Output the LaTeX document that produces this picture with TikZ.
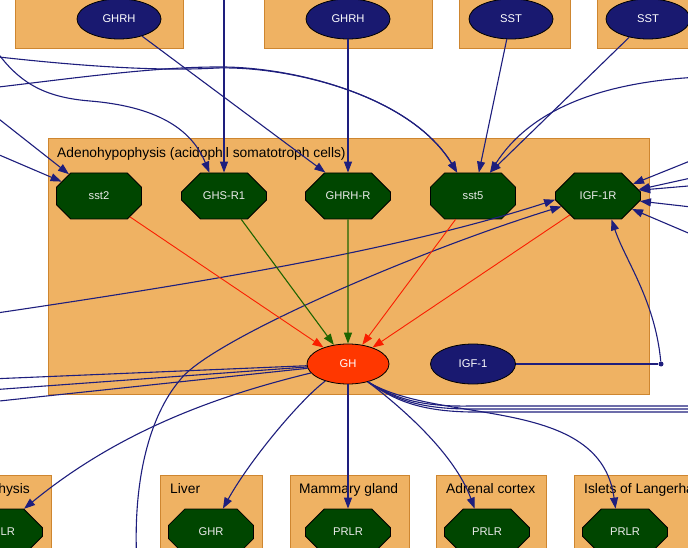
\documentclass[tikz,border=0pt]{standalone}
\usepackage{fontspec}
\setmainfont{Liberation Sans}
\usetikzlibrary{positioning, shapes.geometric, shapes.misc, arrows.meta}
\definecolor{boxfill}{RGB}{239,178,99}
\definecolor{boxdraw}{RGB}{206,134,48}
\definecolor{ligblue}{RGB}{25,25,112}
\definecolor{recgreen}{RGB}{0,70,0}
\definecolor{ghred}{RGB}{255,55,0}
\definecolor{edgeblue}{RGB}{30,30,125}
\definecolor{inhred}{RGB}{250,30,0}
\definecolor{actgreen}{RGB}{30,100,0}
\begin{document}
\begin{tikzpicture}[
    x=1pt, y=-1pt,
    box/.style={draw=boxdraw, fill=boxfill, line width=1pt},
    boxlabel/.style={font=\fontsize{13.8}{16}\selectfont, inner sep=0pt},
    lig/.style={
        ellipse,
        draw=black,
        fill=ligblue,
        text=white,
        line width=0.8pt,
        inner sep=0pt,
        minimum width=84pt,
        minimum height=40pt,
        font=\fontsize{11.2}{13}\selectfont,
    },
    horm/.style={lig, fill=ghred, minimum width=82pt},
    rec/.style={
        chamfered rectangle,
        chamfered rectangle xsep=16pt,
        chamfered rectangle ysep=15pt,
        draw=black,
        fill=recgreen,
        text=white!92!black,
        line width=0.8pt,
        inner sep=0pt,
        minimum width=85pt,
        minimum height=46pt,
        font=\fontsize{11.2}{13}\selectfont,
    },
    dot/.style={circle, fill=edgeblue, inner sep=0pt, minimum size=5pt},
    link/.style={draw=edgeblue, line width=1.1pt},
    arr/.style={link, -{Triangle[length=11pt, width=8pt]}},
    inh/.style={draw=inhred, line width=0.9pt, -{Triangle[length=11pt, width=8pt]}},
    act/.style={draw=actgreen, line width=1.1pt, -{Triangle[length=11pt, width=8pt]}}
]
\useasboundingbox (0,0) rectangle (688,548);
\clip (0,0) rectangle (688,548);

% compartments
\draw[box] (15,-20) rectangle (183,49);
\draw[box] (264,-20) rectangle (432,49);
\draw[box] (459,-20) rectangle (570,49);
\draw[box] (597,-20) rectangle (720,49);
\draw[box] (48,139) rectangle (649,394);
\draw[box] (-120,475) rectangle (51,600);
\draw[box] (160,475) rectangle (262,600);
\draw[box] (290,475) rectangle (409,600);
\draw[box] (436,475) rectangle (546,600);
\draw[box] (574,475) rectangle (740,600);

\node[boxlabel, anchor=base west] (lAdeno) at (57,157.5) {Adenohypophysis (acidophil somatotroph cells)};
\node[boxlabel, anchor=base east] (lPit) at (30,493) {Adenohypophysis};
\node[boxlabel, anchor=base west] (lLiver) at (170,493) {Liver};
\node[boxlabel, anchor=base west] (lMamm) at (299,493) {Mammary gland};
\node[boxlabel, anchor=base west] (lAdre) at (446,493) {Adrenal cortex};
\node[boxlabel, anchor=base west] (lIsl) at (584,493) {Islets of Langerhans};

% ligands and receptors
\node[lig] (ghrhA) at (119,19) {GHRH};
\node[lig] (ghrhB) at (348,19) {GHRH};
\node[lig] (sstA) at (511,19) {SST};
\node[lig] (sstB) at (648,19) {SST};

\node[rec] (sst2) at (99,196) {sst2};
\node[rec] (ghsr) at (224,196) {GHS-R1};
\node[rec] (ghrhr) at (348,196) {GHRH-R};
\node[rec] (sst5) at (473,196) {sst5};
\node[rec] (igfr) at (598,196) {IGF-1R};

\node[horm] (gh) at (348,364) {GH};
\node[lig, minimum width=85pt] (igf) at (473,364) {IGF-1};
\node[dot] (jn) at (661,364) {};

\node[rec] (prlrA) at (0,532) {PRLR};
\node[rec] (ghr) at (211,532) {GHR};
\node[rec] (prlrB) at (348,532) {PRLR};
\node[rec] (prlrC) at (487,532) {PRLR};
\node[rec] (prlrD) at (625,532) {PRLR};

% ends outside the frame
\coordinate (inA) at (224,-10);
\coordinate (inB) at (-10,42);
\coordinate (inC) at (-10,56);
\coordinate (inD) at (-10,88);
\coordinate (inE) at (-10,112);
\coordinate (inF) at (-10,151);
\coordinate (inG) at (-10,314);
\coordinate (inH) at (137,565);
\coordinate (inI) at (700,77);
\coordinate (inJ) at (700,157);
\coordinate (inK) at (700,176);
\coordinate (inL) at (700,185);
\coordinate (inM) at (700,208);
\coordinate (inN) at (700,238);
\coordinate (outA) at (-10,379);
\coordinate (outB) at (-10,390);
\coordinate (outC) at (-10,402);
\coordinate (outD) at (700,406);
\coordinate (outE) at (700,409);
\coordinate (outF) at (700,412);

% inputs to the somatotroph
\draw[arr] (ghrhA) -- (ghrhr.134);
\draw[arr] (ghrhB) -- (ghrhr);
\draw[arr] (inA) -- (ghsr);
\draw[arr] (inB) .. controls (15,80) and (40,97) .. (90,101) .. controls (150,106) and (190,125) .. (ghsr.122);
\draw[arr] (inC) .. controls (60,64) and (150,72) .. (217,68) .. controls (290,66) and (410,95) .. (sst5.124);
\draw[arr] (inD) .. controls (60,80) and (150,67) .. (217,67) .. controls (290,66) and (410,95) .. (sst5.124);
\draw[arr] (sstA) -- (sst5.76);
\draw[arr] (sstB) -- (sst5.54);
\draw[arr] (inI) .. controls (600,82) and (530,110) .. (sst5.54);
\draw[arr] (inE) -- (sst2.144);
\draw[arr] (inF) -- (sst2.159);
\draw[arr] (inJ) -- (igfr.19);
\draw[arr] (inK) -- (igfr.9);
\draw[arr] (inL) -- (igfr.8);
\draw[arr] (inM) -- (igfr.353);
\draw[arr] (inN) -- (igfr.339);
\draw[arr] (inG) .. controls (200,283) and (400,250) .. (igfr.185);
\draw[arr] (inH) .. controls (132,480) and (150,415) .. (180,380) .. controls (210,340) and (420,250) .. (igfr.196);

% receptors acting on GH
\draw[inh] (sst2) -- (gh);
\draw[act] (ghsr) -- (gh);
\draw[act] (ghrhr) -- (gh);
\draw[inh] (sst5) -- (gh);
\draw[inh] (igfr) -- (gh);

% IGF-1 feedback
\draw[link] (igf) -- (jn);
\draw[arr] (jn) .. controls (655,300) and (625,260) .. (igfr.300);

% GH targets
\draw[link] (gh) -- (outA);
\draw[link] (gh) -- (outB);
\draw[link] (gh) -- (outC);
\draw[link] (gh.318) .. controls (392,396) and (415,407) .. (470,406) -- (outD);
\draw[link] (gh.318) .. controls (392,397) and (415,409) .. (470,409) -- (outE);
\draw[link] (gh.318) .. controls (392,398) and (415,411) .. (470,412) -- (outF);
\draw[arr] (gh) .. controls (220,395) and (120,430) .. (prlrA.44);
\draw[arr] (gh) .. controls (300,400) and (250,460) .. (ghr.63);
\draw[arr] (gh) -- (prlrB);
\draw[arr] (gh.318) .. controls (405,410) and (455,455) .. (prlrC.118);
\draw[arr] (gh.318) .. controls (440,425) and (600,395) .. (prlrD.112);
\end{tikzpicture}
\end{document}
